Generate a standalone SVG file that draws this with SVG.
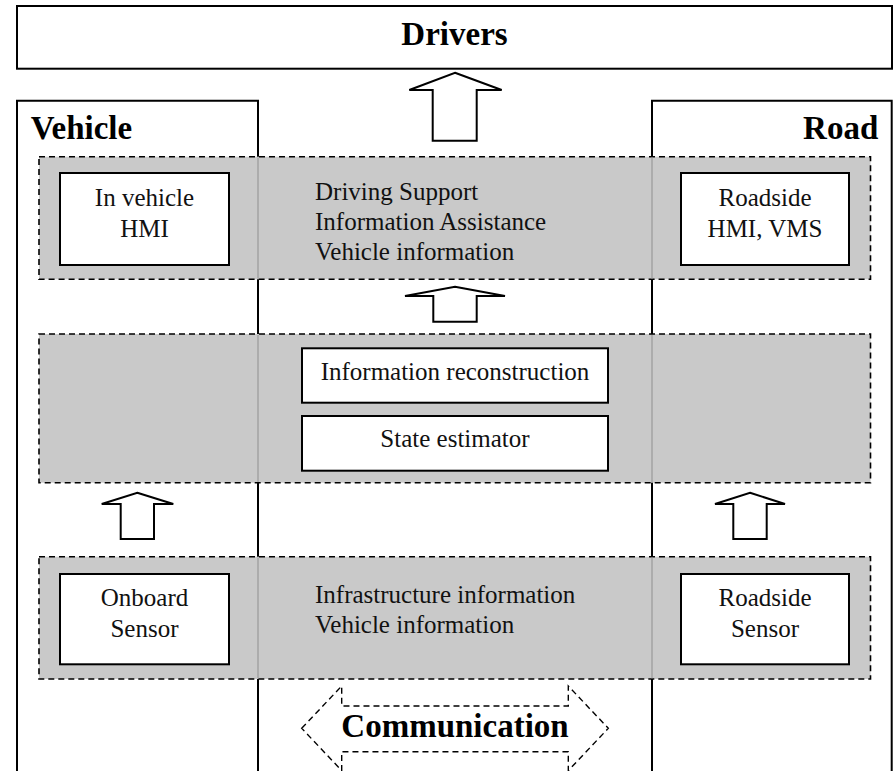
<svg xmlns="http://www.w3.org/2000/svg" width="894" height="771" viewBox="0 0 894 771">
<style>
.box{fill:#fff;stroke:#000;stroke-width:2}
.frame{fill:none;stroke:#000;stroke-width:2}
.grp{fill:#c9c9c9;stroke:#000;stroke-width:1.6;stroke-dasharray:6 4}
.sep{stroke:#a2a2a2;stroke-width:1.5}
.t{font-family:"Liberation Serif","Times New Roman",serif;font-size:25px;fill:#111}
.b{font-family:"Liberation Serif","Times New Roman",serif;font-size:33px;font-weight:bold;fill:#000}
.arr{fill:#fff;stroke:#000;stroke-width:2;stroke-linejoin:miter}
.comm{fill:#fff;stroke:#000;stroke-width:1.4;stroke-dasharray:6 4}
</style>
<rect width="894" height="771" fill="#fff"/>
<g id="drivers">
<rect class="box" x="17" y="6" width="875" height="62.7"/>
<text class="b" x="454.5" y="45" text-anchor="middle">Drivers</text>
</g>
<g id="vehicle">
<path class="frame" d="M17,775 V100.7 H258 V775"/>
<text class="b" x="30.7" y="139.3">Vehicle</text>
</g>
<g id="road">
<path class="frame" d="M652,775 V100.7 H891.7 V775"/>
<text class="b" x="878.3" y="139.3" text-anchor="end">Road</text>
</g>
<g id="output-layer">
<rect class="grp" x="39" y="156.7" width="831.5" height="122.6"/>
<line class="sep" x1="258" y1="157.5" x2="258" y2="278.5"/>
<line class="sep" x1="652" y1="157.5" x2="652" y2="278.5"/>
<text class="t" x="315" y="200">Driving Support</text>
<text class="t" x="315" y="230">Information Assistance</text>
<text class="t" x="315" y="260">Vehicle information</text>
</g>
<g id="in-vehicle-hmi">
<rect class="box" x="60" y="173" width="169" height="92"/>
<text class="t" x="144.5" y="205.7" text-anchor="middle">In vehicle</text>
<text class="t" x="144.5" y="236.7" text-anchor="middle">HMI</text>
</g>
<g id="roadside-hmi">
<rect class="box" x="681" y="173" width="168" height="92"/>
<text class="t" x="765" y="205.7" text-anchor="middle">Roadside</text>
<text class="t" x="765" y="236.7" text-anchor="middle">HMI, VMS</text>
</g>
<g id="processing-layer">
<rect class="grp" x="39" y="334" width="831.5" height="148.7"/>
<line class="sep" x1="258" y1="335" x2="258" y2="482"/>
<line class="sep" x1="652" y1="335" x2="652" y2="482"/>
</g>
<g id="information-reconstruction">
<rect class="box" x="302" y="348.3" width="306" height="54.4"/>
<text class="t" x="455" y="380" text-anchor="middle">Information reconstruction</text>
</g>
<g id="state-estimator">
<rect class="box" x="302" y="416" width="306" height="54.7"/>
<text class="t" x="455" y="446.7" text-anchor="middle">State estimator</text>
</g>
<g id="sensing-layer">
<rect class="grp" x="39" y="556.7" width="831.5" height="122.3"/>
<line class="sep" x1="258" y1="557.5" x2="258" y2="678.2"/>
<line class="sep" x1="652" y1="557.5" x2="652" y2="678.2"/>
<text class="t" x="315" y="603.3">Infrastructure information</text>
<text class="t" x="315" y="633.3">Vehicle information</text>
</g>
<g id="onboard-sensor">
<rect class="box" x="60" y="574" width="169" height="90.3"/>
<text class="t" x="144.5" y="606" text-anchor="middle">Onboard</text>
<text class="t" x="144.5" y="636.7" text-anchor="middle">Sensor</text>
</g>
<g id="roadside-sensor">
<rect class="box" x="681" y="574" width="168" height="90.3"/>
<text class="t" x="765" y="606" text-anchor="middle">Roadside</text>
<text class="t" x="765" y="636.7" text-anchor="middle">Sensor</text>
</g>
<g id="connectors">
<polygon class="arr" points="455,72.7 501.7,90 476.7,90 476.7,140.7 432.7,140.7 432.7,90 409.3,90"/>
<polygon class="arr" points="455,286.7 505,296 476.7,296 476.7,321.7 433.3,321.7 433.3,296 405,296"/>
<polygon class="arr" points="137.3,492.7 173.3,504 154,504 154,539 120.7,539 120.7,504 101.7,504"/>
<polygon class="arr" points="750,492.7 785,504 766.7,504 766.7,539 733.3,539 733.3,504 715,504"/>
<g id="communication">
<polygon class="comm" points="301.7,728.3 341.7,686 341.7,706 568.3,706 568.3,686 608.3,728.3 568.3,770.6 568.3,751.7 341.7,751.7 341.7,770.6"/>
<text class="b" x="455" y="736.7" text-anchor="middle">Communication</text>
</g>
</g>
</svg>
